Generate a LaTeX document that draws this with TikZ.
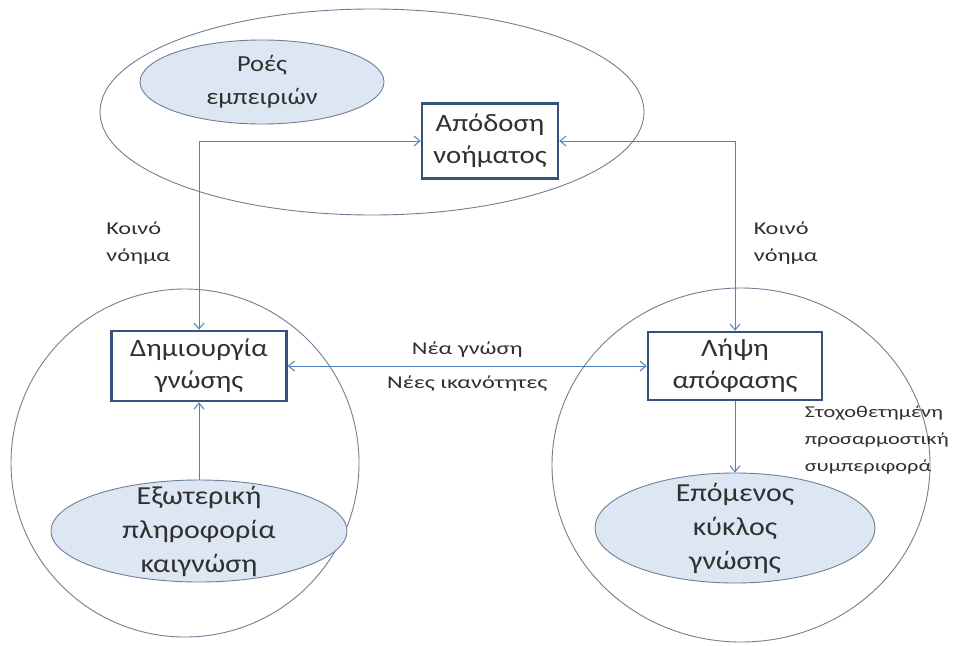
\documentclass[tikz,border=0pt]{standalone}
\usepackage{fontspec}
\setmainfont[FakeStretch=1.15]{Carlito}
\newfontfamily\widefont[FakeStretch=1.35]{Carlito}
\usetikzlibrary{arrows.meta,shapes.geometric}
\definecolor{linkblue}{RGB}{79,129,189}
\definecolor{boxnavy}{RGB}{52,82,122}
\definecolor{lightfill}{RGB}{221,231,243}
\definecolor{rimgrey}{RGB}{112,126,150}
\definecolor{inkgrey}{RGB}{48,48,48}

\begin{document}
\begin{tikzpicture}[x=1pt,y=-1pt,>={Straight Barb[length=6pt,width=10pt]},
    big ring/.style={draw=rimgrey,line width=0.9pt},
    cloud node/.style={ellipse,draw=rimgrey,fill=lightfill,line width=0.9pt,inner sep=0pt},
    cloud text/.style={align=center,text=inkgrey,font=\fontsize{26}{34}\selectfont},
    step node/.style={rectangle,draw=boxnavy,fill=white,line width=2.6pt,align=center,text=inkgrey,font=\fontsize{25}{32}\selectfont},
    note/.style={align=left,text=inkgrey,font=\widefont\fontsize{18}{27}\selectfont},
    link/.style={draw=linkblue,line width=1pt,<->}]
    \fill[white] (0,0) rectangle (960,645);
    \useasboundingbox (0,0) rectangle (960,645);

    % the three outer areas
    \draw[big ring] (372,112) ellipse [x radius=272pt,y radius=103pt];
    \draw[big ring] (185,463) circle [radius=174pt];
    \draw[big ring] (741,465) ellipse [x radius=189pt,y radius=177pt];

    \node[cloud node,minimum width=244,minimum height=84,label={[cloud text,font=\fontsize{23}{33}\selectfont]center:Ροές\\εμπειριών}] (flows) at (262,82) {};
    \node[cloud node,minimum width=296,minimum height=102,label={[cloud text]center:Εξωτερική\\πληροφορία\\καιγνώση}] (extern) at (199,531) {};
    \node[cloud node,minimum width=280,minimum height=110,label={[cloud text]center:Επόμενος\\κύκλος\\γνώσης}] (nextcycle) at (735,528) {};

    \node[step node,minimum width=136,minimum height=75] (sense) at (490,141) {Απόδοση\\νοήματος};
    \node[step node,minimum width=175,minimum height=70] (create) at (199,366) {Δημιουργία\\γνώσης};
    \node[step node,minimum width=174,minimum height=68] (decide) at (735,366) {Λήψη\\απόφασης};

    \draw[link] (sense.west) -| node[note,pos=0.77,left=25pt] {Κοινό\\νόημα} (create.north);
    \draw[link] (sense.east) -| node[note,pos=0.77,right=15pt] {Κοινό\\νόημα} (decide.north);
    \draw[link] (create) -- node[note,above=5pt] {Νέα γνώση}
        node[note,below=6pt] {Νέες ικανότητες} (decide);
    \draw[link,->] (extern) -- (create);
    \draw[link,->] (decide) -- node[note,pos=0.55,right=66pt,font=\widefont\fontsize{16.5}{27}\selectfont] {Στοχοθετημένη\\προσαρμοστική\\συμπεριφορά} (nextcycle);
\end{tikzpicture}
\end{document}
